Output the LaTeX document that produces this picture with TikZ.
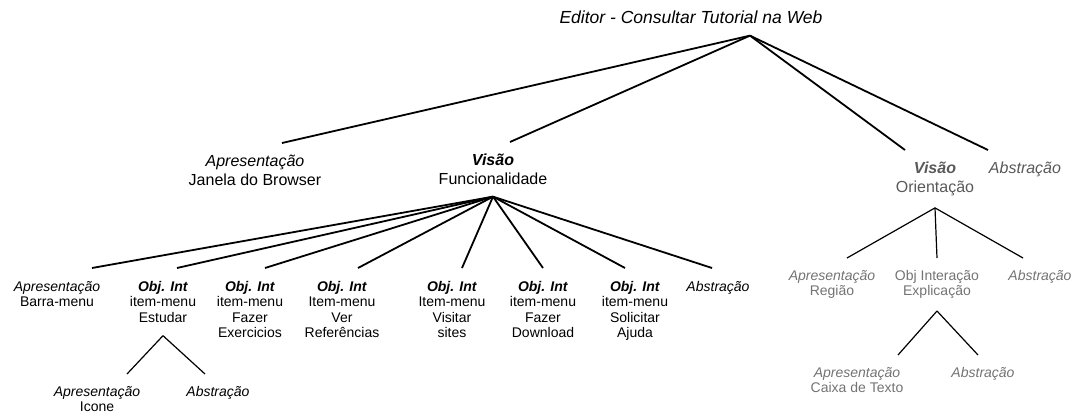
\documentclass[tikz,border=0pt]{standalone}
\usepackage{fontspec}
\setmainfont{Liberation Sans}
\usetikzlibrary{calc}
\newcommand{\pres}{\textit{Apresentação}}
\newcommand{\abst}{\textit{Abstração}}
\newcommand{\objint}{\textbf{\textit{Obj. Int}}}
\newcommand{\visao}{\textbf{\textit{Visão}}}
\tikzset{
  toplabel/.style={inner sep=0pt, inner ysep=12pt, font=\fontsize{17.5}{20}\selectfont\itshape},
  lvlone/.style={align=center, anchor=north, inner sep=0pt, inner ysep=11.5pt,
    font=\fontsize{16}{19.5}\selectfont},
  lvltwo/.style={align=center, anchor=north, inner sep=0pt, inner ysep=13pt,
    font=\fontsize{14}{15.5}\selectfont},
  faded/.style={text=black!55, inner ysep=12pt},
  branch/.style={line width=1.8pt},
  thinbranch/.style={line width=1.2pt}
}
\begin{document}
\begin{tikzpicture}[x=1pt, y=-1pt]
\useasboundingbox (0,0) rectangle (1080,418);
%% Place nodes
\node [toplabel] (root) at (691,17) {Editor - Consultar Tutorial na Web};
\coordinate (rootjoin) at ([xshift=59]root.south);

\node [lvlone] (janela) at (255,143) {\pres\\Janela do Browser};
\node [lvlone] (funcional) at (493,142) {\visao\\Funcionalidade};
\node [lvlone, faded, text=black!65, inner ysep=11.5pt] (orient) at (935,150) {\visao\\Orientação};
\node [lvlone, faded, text=black!65, inner ysep=11.5pt] (abstorient) at (1025,150) {\abst};

%% Children of Funcionalidade
\node [lvltwo] (barra) at (57,268) {\pres\\Barra-menu};
\node [lvltwo] (estudar) at (163,268) {\objint\\item-menu\\Estudar};
\node [lvltwo] (exerc) at (250,268) {\objint\\item-menu\\Fazer\\Exercicios};
\node [lvltwo] (refs) at (342,268) {\objint\\Item-menu\\Ver\\Referências};
\node [lvltwo] (sites) at (452,268) {\objint\\Item-menu\\Visitar\\sites};
\node [lvltwo] (download) at (543,268) {\objint\\item-menu\\Fazer\\Download};
\node [lvltwo] (ajuda) at (635,268) {\objint\\item-menu\\Solicitar\\Ajuda};
\node [lvltwo] (abstfunc) at (718,268) {\abst};

%% Children of Estudar
\node [lvltwo, inner ysep=12pt] (icone) at (97,374) {\pres\\Icone};
\node [lvltwo, inner ysep=12pt] (abstestudar) at (218,374) {\abst};

%% Children of Orientacao
\node [lvltwo, faded] (regiao) at (832,258) {\pres\\Região};
\node [lvltwo, faded] (explic) at (937,258) {Obj Interação\\Explicação};
\node [lvltwo, faded] (abstreg) at (1040,258) {\abst};

%% Children of Explicacao
\node [lvltwo, faded] (caixa) at (857,355) {\pres\\Caixa de Texto};
\node [lvltwo, faded] (abstexpl) at (983,355) {\abst};

%% Draw lines between labels
\foreach \child/\dx in {janela/27, funcional/17, orient/-30, abstorient/-37}
  \draw [branch] (rootjoin) -- ([xshift=\dx]\child.north);
\foreach \child/\dx in {barra/35, estudar/14, exerc/15, refs/16, sites/10, download/0, ajuda/-10, abstfunc/-6}
  \draw [branch] (funcional.south) -- ([xshift=\dx]\child.north);
\foreach \child/\dx in {icone/30, abstestudar/-13}
  \draw [thinbranch] (estudar.south) -- ([xshift=\dx]\child.north);
\foreach \child/\dx in {regiao/15, explic/0, abstreg/-17}
  \draw [thinbranch] (orient.south) -- ([xshift=\dx]\child.north);
\foreach \child/\dx in {caixa/41, abstexpl/-5}
  \draw [thinbranch] (explic.south) -- ([xshift=\dx]\child.north);
\end{tikzpicture}
\end{document}
